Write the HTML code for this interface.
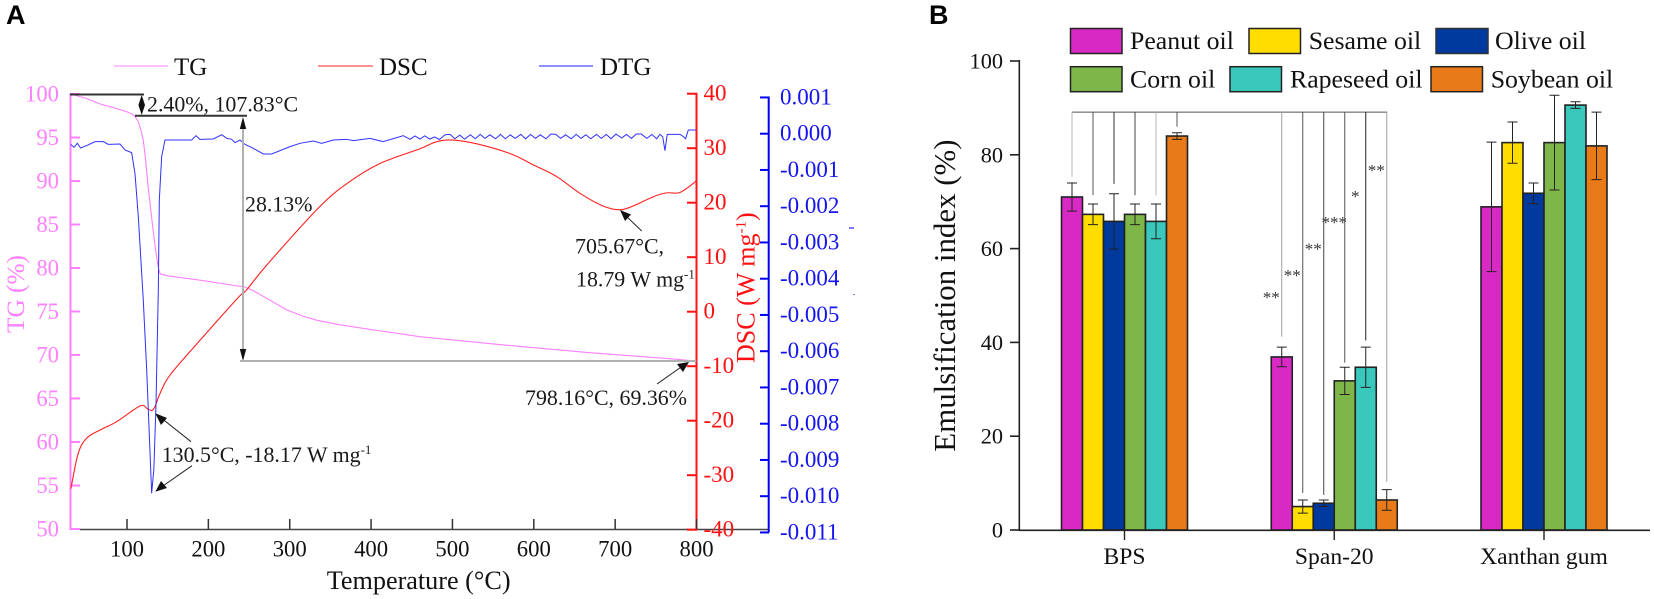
<!DOCTYPE html>
<html lang="en">
<head>
<meta charset="utf-8">
<title>Thermal analysis and emulsification index</title>
<style>
html,body{margin:0;padding:0;background:#fff;}
body{width:1654px;height:599px;overflow:hidden;}
svg{display:block;}
text{font-family:"Liberation Serif",serif;fill:#111;}
.panel{font-family:"Liberation Sans",sans-serif;font-weight:bold;font-size:27px;fill:#000;}
.note{font-size:21.9px;fill:#1a1a1a;}
.leg-a{font-size:25px;}
.leg-b{font-size:25.8px;}
</style>
</head>
<body>
<svg id="figure" xmlns="http://www.w3.org/2000/svg" width="1654" height="599" viewBox="0 0 1654 599">
  <rect width="1654" height="599" fill="#fff"/>
  <text class="panel" x="6" y="24">A</text>
  <text class="panel" x="929" y="24">B</text>

  <g id="panel-a">
    <g>
      <line x1="114" y1="66" x2="168" y2="66" stroke="#ff80ff" stroke-width="1"/>
      <text class="leg-a" x="174" y="75">TG</text>
      <line x1="318" y1="66" x2="373" y2="66" stroke="#ff2020" stroke-width="1"/>
      <text class="leg-a" x="379" y="75">DSC</text>
      <line x1="539" y1="66" x2="593" y2="66" stroke="#2020ff" stroke-width="1"/>
      <text class="leg-a" x="600" y="75">DTG</text>
    </g>
    <line x1="80" y1="529.5" x2="769" y2="529.5" stroke="#444" stroke-width="1.6"/>
    <line x1="70.5" y1="93" x2="70.5" y2="530" stroke="#ff80ff" stroke-width="2"/>
    <line x1="696.5" y1="93" x2="696.5" y2="530" stroke="#ff1010" stroke-width="2"/>
    <line x1="768.7" y1="96.5" x2="768.7" y2="532.5" stroke="#0000f0" stroke-width="2"/>
    <g id="a-ticks"></g>
    <text x="0" y="0" transform="translate(24,333) rotate(-90)" font-size="25.3" style="fill:#ff80ff">TG (%)</text>
    <text x="0" y="0" transform="translate(754.3,363) rotate(-90)" font-size="26" style="fill:#ff1010">DSC (W mg<tspan dy="-9" font-size="15">-1</tspan><tspan dy="9">)</tspan></text>
    <text x="326.7" y="589" font-size="26.2">Temperature (°C)</text>

    <g id="a-curves"></g>

    <g>
      <line x1="70" y1="94.5" x2="144" y2="94.5" stroke="#333" stroke-width="2"/>
      <line x1="135" y1="115.7" x2="247" y2="115.7" stroke="#333" stroke-width="2"/>
      <polygon points="141.7,95 145,105 141.7,115 138.4,105" fill="#111"/>
      <text class="note" x="147" y="111.7">2.40%, 107.83°C</text>
      <line x1="243" y1="125" x2="243" y2="352" stroke="#b0b0b0" stroke-width="2"/>
      <polygon points="243,117 239.8,129 246.2,129" fill="#111"/>
      <polygon points="243,361 239.8,349 246.2,349" fill="#111"/>
      <line x1="240" y1="361" x2="696" y2="361" stroke="#b0b0b0" stroke-width="2"/>
      <text class="note" x="245" y="211.7">28.13%</text>
      <line x1="191" y1="441.7" x2="160" y2="417" stroke="#222" stroke-width="1"/>
      <polygon points="155.3,413.3 167,418 161,425" fill="#111"/>
      <line x1="192" y1="465.7" x2="160" y2="488" stroke="#222" stroke-width="1"/>
      <polygon points="155.3,491.7 161,481 167,488" fill="#111"/>
      <text class="note" x="161.7" y="462">130.5°C, -18.17 W mg<tspan dy="-8" font-size="13">-1</tspan></text>
      <line x1="641.7" y1="231" x2="624" y2="214" stroke="#222" stroke-width="1"/>
      <polygon points="620,210 631,214.5 625,221" fill="#111"/>
      <text class="note" x="575" y="253.3">705.67°C,</text>
      <text class="note" x="576" y="286.7">18.79 W mg<tspan dy="-8" font-size="13">-1</tspan></text>
      <line x1="657" y1="384" x2="684" y2="365" stroke="#222" stroke-width="1"/>
      <polygon points="689,362 683,372 677,364" fill="#111"/>
      <text class="note" x="525" y="405">798.16°C, 69.36%</text>
      <line x1="849" y1="228" x2="854" y2="228" stroke="#2020ff" stroke-width="1.2"/>
      <line x1="853" y1="294.5" x2="855" y2="294.5" stroke="#8080ff" stroke-width="1"/>
    </g>
  </g>

  <g id="panel-b">
    <g>
      <rect x="1070.5" y="28.5" width="51.5" height="25" fill="#d929c5" stroke="#222" stroke-width="1.5"/>
      <text class="leg-b" x="1130" y="49">Peanut oil</text>
      <rect x="1249" y="28.5" width="51.5" height="25" fill="#ffdd00" stroke="#222" stroke-width="1.5"/>
      <text class="leg-b" x="1308.7" y="49">Sesame oil</text>
      <rect x="1436" y="28.5" width="52" height="25" fill="#003a9e" stroke="#333" stroke-width="1.5"/>
      <text class="leg-b" x="1495" y="49">Olive oil</text>
      <rect x="1070.5" y="66.7" width="51.5" height="25" fill="#7eb64a" stroke="#222" stroke-width="1.5"/>
      <text class="leg-b" x="1130" y="87.3">Corn oil</text>
      <rect x="1230" y="66.7" width="51.5" height="25" fill="#3ac7bc" stroke="#222" stroke-width="1.5"/>
      <text class="leg-b" x="1290" y="87.3">Rapeseed oil</text>
      <rect x="1431" y="66.7" width="51.5" height="25" fill="#e87a18" stroke="#222" stroke-width="1.5"/>
      <text class="leg-b" x="1490.7" y="87.3">Soybean oil</text>
    </g>
    <text x="0" y="0" transform="translate(955,451.7) rotate(-90)" font-size="30.9">Emulsification index (%)</text>
    <g id="b-bars"></g>
    <g id="b-sig"></g>
    <line x1="1019.3" y1="60" x2="1019.3" y2="531" stroke="#222" stroke-width="1.6"/>
    <line x1="1019" y1="530.3" x2="1650" y2="530.3" stroke="#222" stroke-width="1.6"/>
    <g id="b-ticks"></g>
  </g>
</svg>

<script>
/* ---------- Panel A data ---------- */
const tempTicks = [100, 200, 300, 400, 500, 600, 700, 800];
const tgTicks = [100, 95, 90, 85, 80, 75, 70, 65, 60, 55, 50];
const dscTicks = [40, 30, 20, 10, 0, -10, -20, -30, -40];
const dtgTicks = [1, 0, -1, -2, -3, -4, -5, -6, -7, -8, -9, -10, -11];
const dtgTickLabels = ['0.001', '0.000', '-0.001', '-0.002', '-0.003', '-0.004', '-0.005', '-0.006', '-0.007', '-0.008', '-0.009', '-0.010', '-0.011'];

const tgTemps = [30.6, 50, 67, 85, 100, 106, 110, 114, 117, 120, 123, 126, 132, 136, 139, 141, 150, 190, 245, 255, 272, 296, 315, 333, 360, 395, 460, 558, 665, 763, 800];
const tgValues = [100, 99.5, 98.85, 98.4, 97.95, 97.7, 97.4, 96.8, 95.9, 94.7, 92.3, 89.3, 84.4, 81.5, 79.8, 79.3, 79.1, 78.6, 77.8, 77.4, 76.5, 75.2, 74.5, 74, 73.5, 73, 72.1, 71.2, 70.3, 69.6, 69.3];

const dscTemps = [31, 40, 50.5, 67, 87, 116, 125, 131, 135, 140.6, 153, 190, 236, 247, 272, 337, 374, 411, 460, 480.6, 501, 530, 571, 600, 628, 657, 685, 706, 722, 747, 763, 780, 800];
const dscValues = [-32.5, -26, -23.2, -21.7, -20.2, -17.3, -17.8, -18.1, -17.2, -15, -11.6, -5.2, 2.5, 4, 8.6, 19.3, 23.9, 27.2, 29.9, 31.2, 31.5, 30.8, 29, 26.9, 24.8, 21.7, 19.4, 18.7, 19.4, 21.1, 21.8, 21.9, 24];

const dtgTemps = [30.8, 34.9, 39, 43, 51.2, 60.7, 70.9, 77, 91.4, 97.5, 105.7, 109.8, 113.9, 120, 124.2, 130.3, 133, 135.6, 138.5, 139.7, 142.6, 146.7, 179.5, 184.8, 189.7, 206.1, 216.4, 222.5, 228.6, 232.7, 238.9, 245, 255.3, 267.6, 277.8, 300.3, 312.6, 329, 339.3, 353.6, 370, 378.2, 398.7, 415, 439.6, 447.8, 453.9, 460,
  466, 472, 478, 484, 491, 497, 503, 509, 515, 522, 528, 534, 540, 546, 553, 559, 565, 571, 577, 584, 590, 596, 602, 608, 615, 621, 627, 633, 639, 646, 652, 658, 664, 670, 677, 683, 689, 695, 701, 708, 714, 720, 726, 732, 739, 745, 751, 755, 758.4, 761.2, 764, 779.7, 783.8, 786.6, 789.9, 799.3];
const dtgMilli = [-0.293, -0.376, -0.265, -0.394, -0.32, -0.219, -0.219, -0.293, -0.284, -0.449, -0.522, -1.092, -2.286, -4.582, -6.51, -9.92, -9.26, -7.52, -4.3, -1.84, -0.633, -0.172, -0.172, -0.054, -0.155, -0.146, -0.027, -0.128, -0.155, -0.247, -0.174, -0.293, -0.403, -0.559, -0.559, -0.357, -0.265, -0.201, -0.265, -0.174, -0.155, -0.192, -0.128, -0.219, -0.054, -0.155, -0.063, -0.146,
  -0.06, -0.15, -0.09, -0.16, -0.03, -0.02, -0.14, -0.04, -0.15, -0.03, -0.14, -0.02, -0.13, -0.03, -0.14, -0.02, -0.14, -0.03, -0.13, -0.02, -0.14, -0.02, -0.13, -0.03, -0.14, -0.01, -0.02, -0.13, -0.03, -0.14, -0.02, -0.13, -0.03, -0.14, -0.02, -0.13, -0.02, -0.14, -0.01, -0.12, -0.02, -0.13, -0.01, -0.01, -0.13, -0.02, -0.14, -0.02, -0.08, -0.467, -0.02, -0.017, -0.08, -0.137, 0.102, 0.102];

/* ---------- Panel B data ---------- */
const groupLabels = ['BPS', 'Span-20', 'Xanthan gum'];
const oilNames = ['peanut', 'sesame', 'olive', 'corn', 'rapeseed', 'soybean'];
const oilColors = ['#d929c5', '#ffdd00', '#003a9e', '#7eb64a', '#3ac7bc', '#e87a18'];
const peanutValues = [71, 36.9, 68.9];
const sesameValues = [67.3, 5, 82.6];
const oliveValues = [65.8, 5.7, 71.8];
const cornValues = [67.3, 31.8, 82.6];
const rapeseedValues = [65.8, 34.7, 90.6];
const soybeanValues = [84, 6.4, 81.9];
const peanutErrors = [3, 2.1, 13.8];
const sesameErrors = [2.2, 1.4, 4.4];
const oliveErrors = [5.9, 0.7, 2.2];
const cornErrors = [2.2, 2.9, 10.1];
const rapeseedErrors = [3.7, 4.3, 0.7];
const soybeanErrors = [0.7, 2.2, 7.2];
const percentTicks = [100, 80, 60, 40, 20, 0];
const bracketLevel = 89.1;
const bpsDropEnds = [75.3, 71.4, 73.8, 71.4, 71.4, 86];
const spanDropEnds = [41.2, 7.9, 7.5, 35.7, 40.4, 10.3];
const bpsDropShades = ['#b5b5b5', '#555', '#333', '#444', '#b5b5b5', '#555'];
const spanDropShades = ['#a0a0a0', '#555', '#444', '#555', '#222', '#a0a0a0'];
const sigLabels = ['**', '**', '**', '***', '*', '**'];
const sigLevels = [50.1, 54.8, 60.4, 66.1, 71.6, 77.2];

const allValues = [peanutValues, sesameValues, oliveValues, cornValues, rapeseedValues, soybeanValues];
const allErrors = [peanutErrors, sesameErrors, oliveErrors, cornErrors, rapeseedErrors, soybeanErrors];

/* ---------- Axis functions ---------- */
const xTemp = t => 127 + (t - 100) * 0.8136;
const yTG = v => 94 + (100 - v) * 8.7;
const yDSC = v => 311.7 - v * 5.45;
const yDTG = v => 133.7 - v * 36.25;
const yPct = v => 530 - v * 4.69;
const groupCenter = g => 1124.5 + g * 209.75;
const barLeft = (g, i) => groupCenter(g) + (i - 3) * 21;
const barCenter = (g, i) => barLeft(g, i) + 10.5;

const NS = 'http://www.w3.org/2000/svg';
function add(parent, tag, attrs, content) {
  const el = document.createElementNS(NS, tag);
  for (const k in attrs) el.setAttribute(k, attrs[k]);
  if (content !== undefined) el.textContent = content;
  parent.appendChild(el);
  return el;
}

/* ---------- Panel A ticks ---------- */
const aTicks = document.getElementById('a-ticks');
tempTicks.forEach(t => {
  const tick = add(aTicks, 'line', {x1: xTemp(t), x2: xTemp(t), y1: 519, y2: 529, stroke: '#333', 'stroke-width': 1.5});
  
  
  const label = add(aTicks, 'text', {x: xTemp(t), y: 556.7, 'text-anchor': 'middle', 'font-size': 22.7}, String(t));
  
  
});
tgTicks.forEach(v => {
  const tick = add(aTicks, 'line', {x1: 70, x2: 80, y1: yTG(v), y2: yTG(v), stroke: '#ff80ff', 'stroke-width': 2});
  
  
  const label = add(aTicks, 'text', {x: 59, y: yTG(v) + 7.5, 'text-anchor': 'end', 'font-size': 22.7, style: 'fill:#ff80ff'}, String(v));
  
  
});
dscTicks.forEach(v => {
  const tick = add(aTicks, 'line', {x1: 687, x2: 697, y1: yDSC(v), y2: yDSC(v), stroke: '#ff1010', 'stroke-width': 2});
  
  
  const label = add(aTicks, 'text', {x: 703.5, y: yDSC(v) + 7, 'font-size': 23, style: 'fill:#ff1010'}, String(v));
  
  
});
dtgTicks.forEach((v, i) => {
  const tick = add(aTicks, 'line', {x1: 760, x2: 769, y1: yDTG(v), y2: yDTG(v), stroke: '#0000f0', 'stroke-width': 2});
  
  
  const label = add(aTicks, 'text', {x: 780, y: yDTG(v) + 7, 'font-size': 23, style: 'fill:#1414f0'}, dtgTickLabels[i]);
  
  
});

/* ---------- Panel A curves ---------- */
const aCurves = document.getElementById('a-curves');
function pathFrom(xs, ys, xf, yf) {
  return xs.map((t, i) => (i ? 'L' : 'M') + xf(t).toFixed(2) + ' ' + yf(ys[i]).toFixed(2)).join('');
}
function smoothPathFrom(xs, ys, xf, yf) {
  const p = xs.map((t, i) => [xf(t), yf(ys[i])]);
  let d = 'M' + p[0][0].toFixed(2) + ' ' + p[0][1].toFixed(2);
  for (let i = 0; i < p.length - 1; i++) {
    const a = p[Math.max(i - 1, 0)], b = p[i], c = p[i + 1], e = p[Math.min(i + 2, p.length - 1)];
    const c1x = b[0] + (c[0] - a[0]) / 6, c1y = b[1] + (c[1] - a[1]) / 6;
    const c2x = c[0] - (e[0] - b[0]) / 6, c2y = c[1] - (e[1] - b[1]) / 6;
    d += 'C' + c1x.toFixed(2) + ' ' + c1y.toFixed(2) + ' ' + c2x.toFixed(2) + ' ' + c2y.toFixed(2) + ' ' + c[0].toFixed(2) + ' ' + c[1].toFixed(2);
  }
  return d;
}
const tgCurve = add(aCurves, 'path', {d: pathFrom(tgTemps, tgValues, xTemp, yTG), fill: 'none', stroke: '#ff80ff', 'stroke-width': 1.1});


const dscCurve = add(aCurves, 'path', {d: smoothPathFrom(dscTemps, dscValues, xTemp, yDSC), fill: 'none', stroke: '#ff2020', 'stroke-width': 1.1});


const dtgCurve = add(aCurves, 'path', {d: pathFrom(dtgTemps, dtgMilli, xTemp, yDTG), fill: 'none', stroke: '#3030ff', 'stroke-width': 1});



/* ---------- Panel B bars ---------- */
const bBars = document.getElementById('b-bars');
groupLabels.forEach((group, g) => {
  oilNames.forEach((oil, i) => {
    const v = allValues[i][g];
    const bar = add(bBars, 'rect', {x: barLeft(g, i), y: yPct(v), width: 21, height: yPct(0) - yPct(v), fill: oilColors[i], stroke: '#222', 'stroke-width': 1.6});
    
    
  });
  oilNames.forEach((oil, i) => {
    const v = allValues[i][g];
    const e = allErrors[i][g];
    const cx = barCenter(g, i);
    const d = 'M' + cx + ' ' + yPct(v + e) + 'V' + yPct(v - e) +
      'M' + (cx - 5) + ' ' + yPct(v + e) + 'h10' +
      'M' + (cx - 5) + ' ' + yPct(v - e) + 'h10';
    const err = add(bBars, 'path', {d: d, fill: 'none', stroke: '#222', 'stroke-width': 1});
    
    
  });
});

/* ---------- Panel B significance ---------- */
const bSig = document.getElementById('b-sig');
const bracket = add(bSig, 'line', {x1: barCenter(0, 0), x2: barCenter(1, 5) + 0.5, y1: yPct(bracketLevel), y2: yPct(bracketLevel), stroke: '#555', 'stroke-width': 1});


bpsDropEnds.forEach((v, i) => {
  const drop = add(bSig, 'line', {x1: barCenter(0, i), x2: barCenter(0, i), y1: yPct(bracketLevel), y2: yPct(v), stroke: bpsDropShades[i], 'stroke-width': 1});
  
  
});
spanDropEnds.forEach((v, i) => {
  const drop = add(bSig, 'line', {x1: barCenter(1, i), x2: barCenter(1, i), y1: yPct(bracketLevel), y2: yPct(v), stroke: spanDropShades[i], 'stroke-width': 1});
  
  
});
sigLabels.forEach((s, i) => {
  const star = add(bSig, 'text', {x: barCenter(1, i) - 10.5, y: yPct(sigLevels[i]) + 8, 'text-anchor': 'middle', 'font-size': 17, style: 'fill:#333'}, s);
  
  
});

/* ---------- Panel B ticks ---------- */
const bTicks = document.getElementById('b-ticks');
percentTicks.forEach(v => {
  const tick = add(bTicks, 'line', {x1: 1010, x2: 1019, y1: yPct(v), y2: yPct(v), stroke: '#222', 'stroke-width': 1.6});
  
  
  const label = add(bTicks, 'text', {x: 1003, y: yPct(v) + 7.5, 'text-anchor': 'end', 'font-size': 22.3}, String(v));
  
  
});
groupLabels.forEach((group, g) => {
  const tick = add(bTicks, 'line', {x1: groupCenter(g), x2: groupCenter(g), y1: 530, y2: 540, stroke: '#222', 'stroke-width': 1.4});
  
  
  const label = add(bTicks, 'text', {x: groupCenter(g), y: 564, 'text-anchor': 'middle', 'font-size': 23.6}, group);
  
  
});
</script>
</body>
</html>
